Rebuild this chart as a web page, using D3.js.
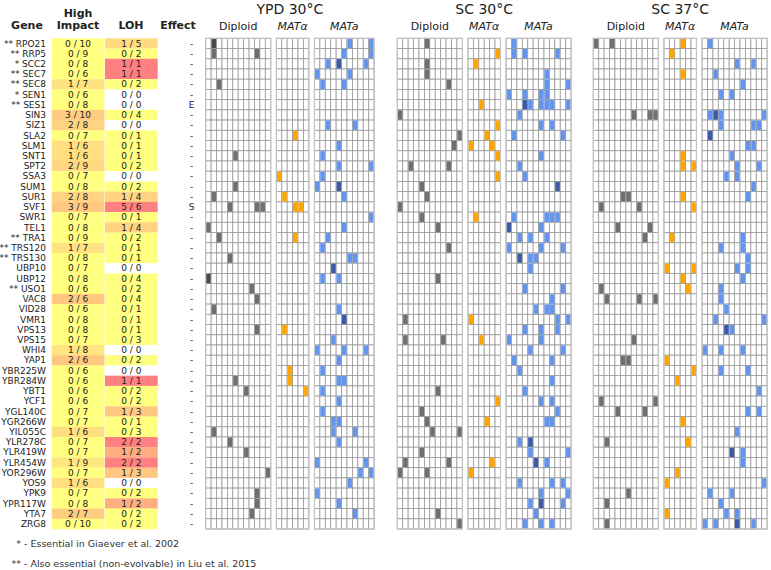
<!DOCTYPE html>
<html><head><meta charset="utf-8">
<script src="https://cdn.jsdelivr.net/npm/d3@7"></script>
<style>body{margin:0;background:#fff;} svg{display:block;font-family:"DejaVu Sans",sans-serif;}</style>
</head><body>
<svg id="chart" width="771" height="570"></svg>
<script>
const genes = ["RPO21","RRP5","SCC2","SEC7","SEC8","SEN1","SES1","SIN3","SIZ1","SLA2","SLM1","SNT1","SPT2","SSA3","SUM1","SUR1","SVF1","SWR1","TEL1","TRA1","TRS120","TRS130","UBP10","UBP12","USO1","VAC8","VID28","VMR1","VPS13","VPS15","WHI4","YAP1","YBR225W","YBR284W","YBT1","YCF1","YGL140C","YGR266W","YIL055C","YLR278C","YLR419W","YLR454W","YOR296W","YOS9","YPK9","YPR117W","YTA7","ZRG8"];
const essentialMark = ["**","**","*","**","**","*","**","","","","","","","","","","","","","**","**","**","","","**","","","","","","","","","","","","","","","","","","","","","","",""];
const highImpactHits  = [0,0,0,0,1,0,0,3,2,0,1,1,2,0,0,2,3,0,0,0,1,0,0,0,0,2,0,0,0,0,1,2,0,0,0,0,0,0,1,0,0,1,0,1,0,0,2,0];
const highImpactTotal = [10,9,8,6,7,6,8,10,8,7,6,6,9,7,8,8,9,7,8,9,7,8,7,8,6,6,6,8,8,7,8,6,6,6,6,6,7,7,6,7,7,9,7,6,7,8,7,10];
const lohHits  = [1,0,1,1,0,0,0,0,0,0,0,0,0,0,0,1,5,0,1,0,0,0,0,0,0,0,0,0,0,0,0,0,0,1,0,0,1,0,0,2,1,2,1,0,0,1,0,0];
const lohTotal = [5,2,1,1,2,0,0,4,0,1,1,1,2,0,2,4,6,1,4,2,1,1,0,4,2,4,1,1,1,3,0,2,0,1,2,2,3,1,3,2,2,2,3,0,2,2,2,2];
const effects = genes.map((g,i)=> i===6 ? "E" : (i===16 ? "S" : "-"));

const conditions = ["YPD 30°C","SC 30°C","SC 37°C"];
const strains = ["Diploid","MATα","MATa"];
const populationCounts = [[12,6,11],[12,6,12],[12,6,12]];

// hits: [geneIndex, population, count]
const ypdDiploid = [[0,1,2],[1,1,1],[1,9,1],[4,2,1],[11,5,1],[14,5,1],[15,1,1],[16,4,1],[16,9,1],[16,10,1],[18,0,1],[19,2,1],[21,4,1],[23,0,2],[24,8,1],[25,9,1],[26,1,1],[28,9,1],[33,5,1],[34,7,1],[38,1,1],[39,4,1],[40,7,1],[42,11,1],[44,9,1],[45,9,1],[46,8,1]];
const ypdAlpha = [[9,3,1],[13,0,1],[15,1,1],[16,3,1],[16,4,1],[19,3,1],[28,1,1],[32,2,1],[33,2,1],[34,5,1]];
const ypdA = [[0,6,1],[0,10,1],[1,5,1],[1,10,1],[2,2,1],[2,4,2],[2,9,1],[3,0,1],[3,6,1],[4,1,1],[4,5,1],[8,2,1],[8,7,1],[10,4,1],[11,1,1],[12,4,1],[12,10,1],[13,1,1],[14,0,1],[14,4,2],[15,5,1],[17,10,1],[18,5,1],[19,2,1],[20,1,1],[21,6,1],[21,7,1],[22,3,2],[23,1,1],[23,4,1],[26,4,1],[27,5,2],[29,3,1],[30,0,1],[30,5,1],[30,9,1],[31,4,1],[32,1,1],[33,4,1],[33,5,1],[34,1,1],[35,4,1],[36,1,1],[37,3,1],[37,4,1],[38,3,1],[38,7,1],[39,4,1],[41,0,1],[41,9,1],[42,8,1],[42,10,1],[43,6,1],[44,0,1],[45,4,1],[46,7,1]];
const sc30Diploid = [[0,5,1],[2,5,1],[3,5,1],[4,9,1],[7,0,1],[9,11,1],[10,10,1],[12,2,1],[12,9,1],[14,4,1],[15,5,1],[16,0,1],[17,4,1],[18,7,1],[20,9,1],[23,7,1],[27,1,1],[29,1,1],[29,8,1],[34,7,1],[36,4,1],[37,5,1],[38,6,1],[38,11,1],[40,4,1],[41,1,1],[41,9,1],[42,0,1],[42,5,1],[46,7,1],[47,11,1]];
const sc30Alpha = [[1,5,1],[2,1,1],[6,2,1],[8,5,1],[9,3,1],[10,0,1],[10,4,1],[11,5,1],[13,5,1],[17,1,1],[27,0,1],[29,2,1],[35,5,1],[37,3,1],[41,4,1],[42,0,1]];
const sc30A = [[0,1,1],[1,1,1],[1,3,1],[1,9,1],[3,7,1],[4,7,1],[4,11,1],[5,0,1],[5,3,1],[5,6,1],[5,7,1],[6,3,2],[6,4,1],[6,6,1],[6,7,1],[6,8,1],[6,11,1],[7,2,1],[8,6,1],[8,8,1],[9,1,1],[9,10,1],[11,6,1],[12,2,1],[13,3,1],[14,9,2],[17,1,1],[17,7,1],[17,8,1],[17,9,1],[18,0,2],[18,6,1],[19,2,1],[19,4,1],[19,7,1],[20,0,1],[20,6,1],[20,10,1],[21,2,2],[21,4,1],[21,5,1],[22,4,1],[24,3,1],[24,10,1],[25,8,1],[26,5,1],[26,7,1],[26,8,1],[27,9,1],[27,11,1],[28,3,1],[28,6,1],[28,9,1],[29,0,1],[29,6,1],[30,4,1],[30,10,1],[31,1,1],[31,8,1],[32,2,1],[33,8,1],[34,3,1],[35,6,1],[35,8,1],[36,9,1],[37,7,1],[37,8,1],[39,2,1],[39,4,2],[40,4,1],[40,11,1],[41,5,2],[41,7,1],[43,2,1],[43,8,1],[43,10,1],[44,6,1],[44,11,1],[45,4,1],[45,6,2],[45,10,1],[46,5,1],[47,3,1],[47,6,1],[47,8,1]];
const sc37Diploid = [[0,0,1],[0,3,1],[7,7,1],[7,10,1],[7,11,1],[15,5,1],[15,6,1],[16,1,1],[16,8,1],[18,4,1],[18,10,1],[19,9,1],[24,1,1],[25,2,1],[25,8,1],[25,11,1],[29,7,1],[31,5,1],[31,6,1],[35,1,1],[35,11,1],[36,4,1],[36,9,1],[39,2,1],[44,6,1],[45,2,1],[47,2,1]];
const sc37Alpha = [[0,3,1],[1,1,1],[3,3,1],[11,3,1],[12,3,1],[12,5,1],[15,3,1],[16,5,1],[19,1,1],[22,0,1],[22,5,1],[23,3,1],[24,4,1],[31,0,1],[32,5,1],[33,2,1],[37,3,1],[39,4,1],[42,2,1],[43,0,1],[46,0,1]];
const sc37A = [[0,1,1],[2,6,1],[2,9,1],[3,2,1],[4,7,1],[5,3,1],[5,5,1],[7,1,1],[7,2,2],[7,3,1],[7,11,1],[8,3,1],[8,9,1],[8,10,1],[9,1,2],[10,8,1],[10,9,1],[11,5,1],[12,6,1],[12,10,1],[13,4,1],[13,6,1],[14,9,1],[15,8,1],[19,7,1],[20,3,1],[20,7,1],[21,8,1],[22,6,1],[22,8,1],[23,7,1],[24,3,1],[25,3,1],[26,4,1],[27,2,1],[27,11,1],[28,4,2],[28,5,1],[30,0,1],[30,3,1],[30,7,1],[32,3,1],[32,8,1],[34,10,1],[36,8,1],[36,10,1],[38,6,1],[40,5,2],[40,7,1],[41,7,1],[43,11,1],[44,1,1],[44,5,1],[45,3,1],[46,4,1],[46,6,1],[47,0,1],[47,2,1],[47,6,2],[47,9,1]];
const hitTables = [[ypdDiploid, ypdAlpha, ypdA],[sc30Diploid, sc30Alpha, sc30A],[sc37Diploid, sc37Alpha, sc37A]];
const footnotes = [["*","- Essential in Giaever et al. 2002"],["**","- Also essential (non-evolvable) in Liu et al. 2015"]];

// ---------- drawing ----------
const svg = d3.select("#chart");
const y = d3.scaleBand().domain(d3.range(genes.length)).range([38.3, 529]).paddingInner(0);
const rh = y.bandwidth();
const fracColor = d3.scaleLinear().domain([0,1]).range(["#ffff80","#ff8080"]).clamp(true);
function cellFill(h,t){ if(t===0) return "#ffffff"; const f=h/t; return f===0 ? fracColor(0) : fracColor(Math.min(1, f*1.15+0.06)); }

// headers
const hdr = svg.append("g").attr("font-weight","bold").attr("font-size",11).attr("fill","#222").attr("text-anchor","middle");
hdr.append("text").attr("x",27).attr("y",29).text("Gene");
hdr.append("text").attr("x",78).attr("y",17).text("High");
hdr.append("text").attr("x",78).attr("y",29).text("Impact");
hdr.append("text").attr("x",131).attr("y",29).text("LOH");
hdr.append("text").attr("x",178).attr("y",29).text("Effect");

const table = svg.append("g");
const xHI = d3.scaleBand().domain(["hi","loh"]).range([51.7,157.7]).paddingInner(0.01);
table.selectAll("rect.hi").data(genes).join("rect")
  .attr("x", xHI("hi")).attr("y",(d,i)=>y(i)).attr("width",xHI.bandwidth()).attr("height",rh+0.2)
  .attr("fill",(d,i)=>cellFill(highImpactHits[i],highImpactTotal[i]));
table.selectAll("rect.loh").data(genes).join("rect")
  .attr("x", xHI("loh")).attr("y",(d,i)=>y(i)).attr("width",xHI.bandwidth()).attr("height",rh+0.2)
  .attr("fill",(d,i)=>cellFill(lohHits[i],lohTotal[i]));
const tt = table.append("g").attr("font-size",9).attr("fill","#222");
tt.selectAll("text.g").data(genes).join("text")
  .attr("x",46).attr("y",(d,i)=>y(i)+rh/2).attr("dy","0.35em").attr("text-anchor","end")
  .text((d,i)=> (essentialMark[i] ? essentialMark[i]+" " : "") + d);
tt.selectAll("text.hi").data(genes).join("text")
  .attr("x",xHI("hi")+xHI.bandwidth()/2).attr("y",(d,i)=>y(i)+rh/2).attr("dy","0.35em").attr("text-anchor","middle")
  .text((d,i)=>`${highImpactHits[i]} / ${highImpactTotal[i]}`);
tt.selectAll("text.loh").data(genes).join("text")
  .attr("x",xHI("loh")+xHI.bandwidth()/2).attr("y",(d,i)=>y(i)+rh/2).attr("dy","0.35em").attr("text-anchor","middle")
  .text((d,i)=>`${lohHits[i]} / ${lohTotal[i]}`);
tt.selectAll("text.eff").data(effects).join("text")
  .attr("x",191.5).attr("y",(d,i)=>y(i)+rh/2).attr("dy","0.35em").attr("text-anchor","middle")
  .text(d=>d);

// heatmaps
const cw = 5.42, gapS = 5.6;
const groupStarts = [205.7, 397.3, 593.3];
const palette = [["#6f6f6f","#4a4a4a"],["#ffa500","#d98c00"],["#6495ed","#3a5ba6"]];
conditions.forEach((cond, ci) => {
  let x0 = groupStarts[ci];
  const g = svg.append("g");
  const centers = [];
  strains.forEach((st, si) => {
    const n = populationCounts[ci][si];
    const xs = d3.scaleBand().domain(d3.range(n)).range([x0, x0 + n*cw]);
    centers.push(x0 + n*cw/2);
    const cells = [];
    for (let r=0;r<genes.length;r++) for (let c=0;c<n;c++) cells.push([r,c]);
    g.append("g").selectAll("rect").data(cells).join("rect")
      .attr("x",d=>xs(d[1])).attr("y",d=>y(d[0])).attr("width",xs.bandwidth()).attr("height",rh)
      .attr("fill","#fff").attr("stroke","#9a9a9a").attr("stroke-width",0.8);
    g.append("g").selectAll("rect").data(hitTables[ci][si]).join("rect")
      .attr("x",d=>xs(d[1])+0.4).attr("y",d=>y(d[0])+0.4).attr("width",xs.bandwidth()-0.8).attr("height",rh-0.8)
      .attr("fill",d=>palette[si][d[2]>1?1:0]);
    g.append("rect").attr("x",x0).attr("y",y.range()[0]).attr("width",n*cw).attr("height",y.range()[1]-y.range()[0])
      .attr("fill","none").attr("stroke","#c4c4c4").attr("stroke-width",1.2);
    g.append("text").attr("x",x0+n*cw/2).attr("y",30).attr("text-anchor","middle")
      .attr("font-size",11).attr("fill","#222").attr("font-style", si===0?"normal":"italic").text(st);
    x0 += n*cw + gapS;
  });
  g.append("text").attr("x",(groupStarts[ci] + x0 - gapS)/2).attr("y",14).attr("text-anchor","middle")
    .attr("font-size",14).attr("fill","#222").text(cond);
});

// footnotes
const fn = svg.append("g").attr("font-size",9.5).attr("fill","#333");
footnotes.forEach((f,i)=>{
  fn.append("text").attr("x",21).attr("y",547+i*20).attr("text-anchor","end").text(f[0]);
  fn.append("text").attr("x",24).attr("y",547+i*20).text(f[1]);
});
</script>
</body></html>
